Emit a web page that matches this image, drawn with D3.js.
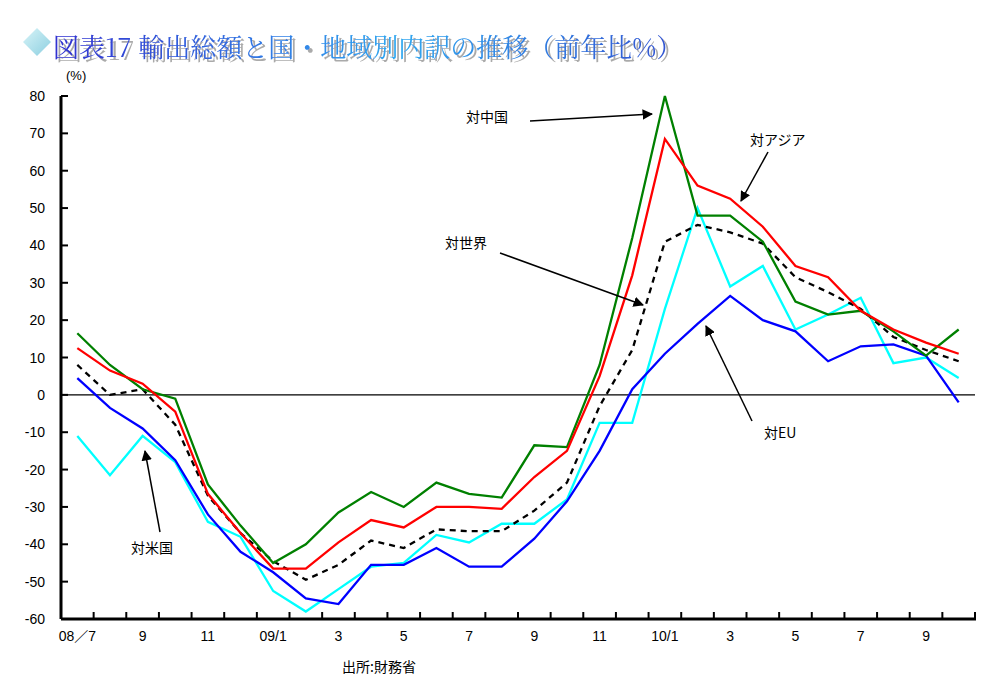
<!DOCTYPE html>
<html><head><meta charset="utf-8">
<script src="https://cdn.jsdelivr.net/npm/d3@7"></script>
<style>body{margin:0;background:#fff}svg{display:block}</style>
</head><body>
<svg width="1002" height="697"></svg>
<script>
// months 08/7 .. 10/10
const months = d3.range(28);
const tickLabels = ["08／7","9","11","09/1","3","5","7","9","11","10/1","3","5","7","9"];
const china = [16.5,8,1.5,-1,-24,-35,-45,-40,-31.5,-26,-30,-23.5,-26.5,-27.5,-13.5,-14,8,42,80,48,48,41,25,21.5,22.5,17,10.5,17.5];
const asia = [12.5,6.5,3,-4.5,-26.5,-37,-46.5,-46.5,-39.5,-33.5,-35.5,-30,-30,-30.5,-22,-15,5,32,68.5,56,52.5,45,34.5,31.5,22.5,17.5,14,11];
const world = [8,0,1.5,-8,-27,-37,-44.5,-49.5,-45.5,-39,-41,-36,-36.5,-36.5,-31,-23.5,-3,12,41,45.5,43.5,40.5,31.5,27.5,23,15.5,12,9];
const usa = [-11,-21.5,-11,-18,-34,-38,-52.5,-58,-52,-46,-45,-37.5,-39.5,-34.5,-34.5,-28,-7.5,-7.5,23,50,29,34.5,17.5,21.5,26,8.5,10,4.5];
const eu = [4.5,-3.5,-9,-17.5,-32,-42,-47.5,-54.5,-56,-45.5,-45.5,-41,-46,-46,-38.5,-28.5,-15,1.5,11,19,26.5,20,17,9,13,13.5,10.5,-2];
const yTicks = d3.range(-60, 81, 10);

const svg = d3.select("svg");
const font = "'Liberation Sans', 'Noto Sans CJK JP', sans-serif";
const x = d3.scaleBand().domain(months).range([61, 975]);
const y = d3.scaleLinear().domain([-60, 80]).range([619, 96]);

// title
const defs = svg.append("defs");
const g1 = defs.append("linearGradient").attr("id","tg");
g1.append("stop").attr("offset","0%").attr("stop-color","#3030d0");
g1.append("stop").attr("offset","55%").attr("stop-color","#30a8f0");
g1.append("stop").attr("offset","100%").attr("stop-color","#3050d0");
const g2 = defs.append("linearGradient").attr("id","dg").attr("x1","0").attr("y1","0").attr("x2","1").attr("y2","1");
g2.append("stop").attr("offset","0%").attr("stop-color","#d8f4f8");
g2.append("stop").attr("offset","100%").attr("stop-color","#8ccfe0");
defs.append("filter").attr("id","sh").append("feDropShadow")
  .attr("dx",3).attr("dy",3).attr("stdDeviation",0.3).attr("flood-color","#aaa");
svg.append("path").attr("d","M37,28 L51,42 L37,56 L23,42 Z").attr("fill","url(#dg)");
const title = "図表17 輸出総額と国・地域別内訳の推移（前年比%）";
svg.append("text").attr("x",53).attr("y",57).attr("fill","url(#tg)").attr("filter","url(#sh)")
  .style("font-family","'Noto Serif CJK JP','Noto Sans CJK JP'").style("font-size","26px").text(title);

// y axis
svg.append("line").attr("x1",61).attr("x2",61).attr("y1",y(80)).attr("y2",619).attr("stroke","#000").attr("stroke-width",3);
yTicks.forEach(t => {
  svg.append("line").attr("x1",61).attr("x2",68).attr("y1",y(t)).attr("y2",y(t)).attr("stroke","#000").attr("stroke-width",2);
  svg.append("text").attr("x",45).attr("y",y(t)+5).attr("text-anchor","end")
    .style("font-family",font).style("font-size","14px").text(t);
});
svg.append("text").attr("x",66).attr("y",80).style("font-family",font).style("font-size","13px").text("(%)");
// zero line
svg.append("line").attr("x1",61).attr("x2",975).attr("y1",y(0)).attr("y2",y(0)).attr("stroke","#000").attr("stroke-width",1.3);
// x axis
svg.append("line").attr("x1",61).attr("x2",976).attr("y1",619).attr("y2",619).attr("stroke","#000").attr("stroke-width",3);
d3.range(1, 29).forEach(i => {
  const xx = 61 + i * x.bandwidth();
  svg.append("line").attr("x1",xx).attr("x2",xx).attr("y1",619).attr("y2",612).attr("stroke","#000").attr("stroke-width",2);
});
tickLabels.forEach((l, k) => {
  svg.append("text").attr("x", x(k*2) + x.bandwidth()/2).attr("y",641).attr("text-anchor","middle")
    .style("font-family",font).style("font-size","14px").text(l);
});
svg.append("text").attr("x",342).attr("y",672).style("font-family","'Noto Sans CJK JP'").style("font-size","14px").text("出所:財務省");

// lines
const line = d3.line().x((d, i) => x(i) + x.bandwidth()/2).y(d => y(d));
[[usa,"#00ffff",null],[eu,"#0000ff",null],[world,"#000","6,5"],[china,"#008000",null],[asia,"#ff0000",null]].forEach(([d,c,da]) => {
  svg.append("path").datum(d).attr("d",line).attr("fill","none").attr("stroke",c).attr("stroke-width",2.3)
    .attr("stroke-dasharray",da);
});

// annotations
defs.append("marker").attr("id","ar").attr("viewBox","0 0 10 10").attr("refX",9).attr("refY",5)
  .attr("markerWidth",7).attr("markerHeight",7).attr("orient","auto")
  .append("path").attr("d","M0,0 L10,5 L0,10 Z").attr("fill","#000");
const notes = [
  ["対中国",466,122,530,121,652,114],
  ["対アジア",750,145,768,152,741,201],
  ["対世界",445,248,500,253,643,305],
  ["対EU",764,438,752,421,706,326],
  ["対米国",131,553,160,532,145,451]
];
notes.forEach(([t,tx,ty,x1,y1,x2,y2]) => {
  svg.append("text").attr("x",tx).attr("y",ty).style("font-family","'Noto Sans CJK JP'").style("font-size","14px").text(t);
  svg.append("line").attr("x1",x1).attr("y1",y1).attr("x2",x2).attr("y2",y2).attr("stroke","#000").attr("stroke-width",1.5)
    .attr("marker-end","url(#ar)");
});
</script>
</body></html>
